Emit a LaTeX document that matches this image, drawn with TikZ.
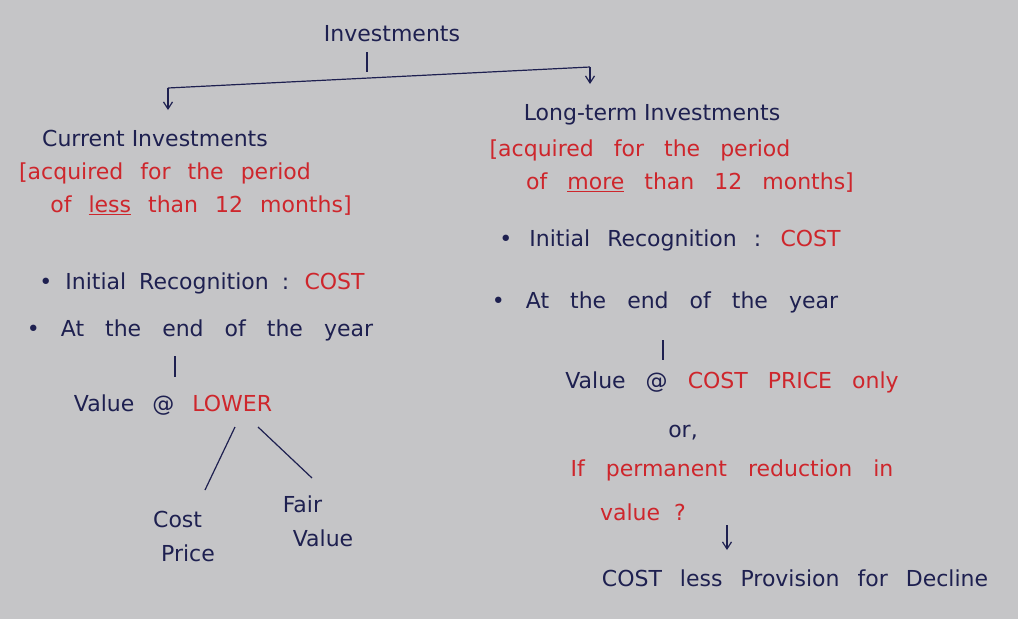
\documentclass[tikz,border=0pt]{standalone}
\usepackage{fontspec}
\setmainfont{DejaVu Sans}
\usepackage{tikz}
\usetikzlibrary{arrows.meta}
\definecolor{paper}{RGB}{197,197,199}
\definecolor{ink}{RGB}{30,32,80}
\definecolor{redink}{RGB}{206,38,44}
\tikzset{
    txt/.style={text=ink,font=\fontsize{22}{34}\selectfont,inner sep=1pt},
    wide/.style={execute at begin node={\spaceskip=#1\relax}},
    redtxt/.style={txt,text=redink},
    pen/.style={draw=ink,line width=1.2pt},
    tip/.style={-{Straight Barb[length=7pt,width=9pt]}}}

\begin{document}
\begin{tikzpicture}[x=1pt,y=-1pt]
        \fill[paper] (0,0) rectangle (1018,619);
        \useasboundingbox (0,0) rectangle (1018,619);
        % top of the tree
        \node[txt,font=\fontsize{22}{26}\selectfont] (invest) at (392,34) {Investments};
        \coordinate (stem) at (367,52);
        \coordinate (barL) at (168,88);
        \coordinate (barR) at (590,67);
        \coordinate (tipL) at (168,110);
        \coordinate (tipR) at (590,84);
        \draw[pen] (stem) -- ++(0,20);
        \draw[pen,tip] (barL) -- (tipL);
        \draw[pen,tip] (barR) -- (tipR);
        \draw[pen] (barL) -- (barR);
        % current investments
        \node[txt] (current) at (155,138) {Current Investments};
        \node[redtxt,wide=17pt] (curacq) at (165,173) {[acquired for the period};
        \node[redtxt,wide=17pt] (curless) at (201,206) {of \underline{less} than 12 months]};
        \node[txt,wide=13pt] (curinit) at (202,283) {\textbullet\ Initial Recognition : \textcolor{redink}{COST}};
        \node[txt,wide=21pt] (curend) at (200,330) {\textbullet\ At the end of the year};
        \node[txt,wide=18pt] (curval) at (173,405) {Value @ \textcolor{redink}{LOWER}};
        \node[txt,align=left] (cost) at (184,536) {Cost\\\hspace{8pt}Price};
        \node[txt,align=left] (fair) at (318,521) {Fair\\\hspace{10pt}Value};
        \coordinate (curtick) at (175,356);
        \coordinate (forkL) at (235,427);
        \coordinate (forkR) at (258,427);
        \coordinate (legL) at (205,490);
        \coordinate (legR) at (312,478);
        \draw[pen] (curtick) -- ++(0,21);
        \draw[pen] (forkL) -- (legL);
        \draw[pen] (forkR) -- (legR);
        % long-term investments
        \node[txt] (long) at (652,115) {Long-term Investments};
        \node[redtxt,wide=20pt] (longacq) at (640,150) {[acquired for the period};
        \node[redtxt,wide=20pt] (longmore) at (690,183) {of \underline{more} than 12 months]};
        \node[txt,wide=17pt] (longinit) at (670,240) {\textbullet\ Initial Recognition : \textcolor{redink}{COST}};
        \node[txt,wide=21pt] (longend) at (665,302) {\textbullet\ At the end of the year};
        \node[txt,wide=20pt] (longval) at (732,382) {Value @ \textcolor{redink}{COST PRICE only}};
        \node[txt] (or) at (683,433) {or,};
        \node[redtxt,wide=21pt] (perm) at (732,470) {If permanent reduction in};
        \node[redtxt,wide=14pt] (query) at (643,512) {value ?};
        \node[txt,wide=18pt] (decline) at (795,578) {COST less Provision for Decline};
        \coordinate (longtick) at (663,340);
        \coordinate (down) at (727,525);
        \coordinate (downtip) at (727,550);
        \draw[pen] (longtick) -- ++(0,20);
        \draw[pen,tip] (down) -- (downtip);
\end{tikzpicture}
\end{document}
